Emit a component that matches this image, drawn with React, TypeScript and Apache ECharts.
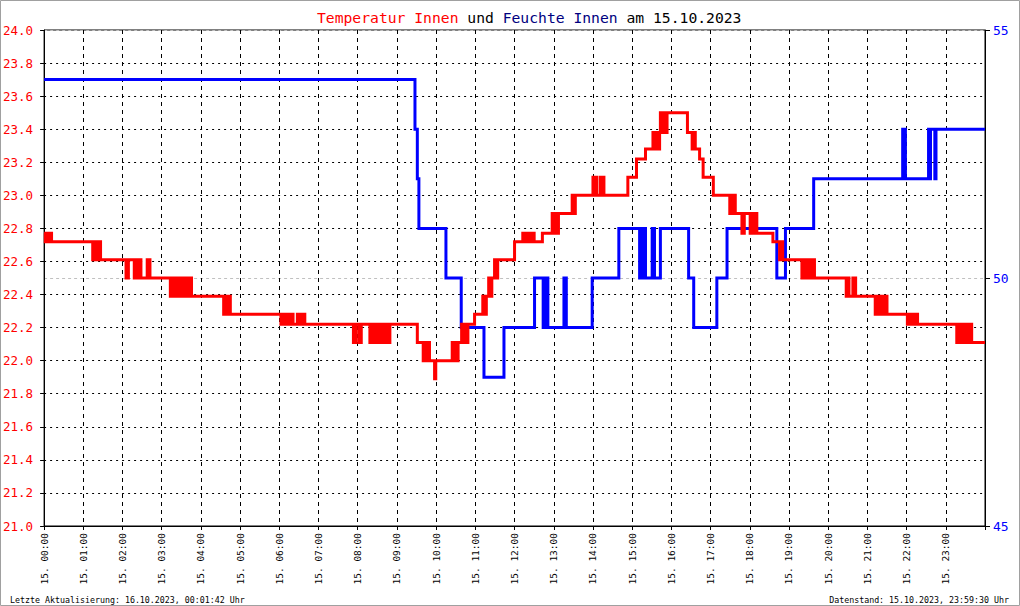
import React, { useEffect, useRef } from 'react';
import * as echarts from 'echarts';

// Temperature (°C) as [hour of day, value] step points
const tempPoints: [number, number][] = [
  [0.00, 22.77], [0.03, 22.72], [0.06, 22.77], [0.09, 22.72], [0.12, 22.77], [0.15, 22.72], [0.17, 22.77], [0.19, 22.72],
  [1.24, 22.61], [1.28, 22.72], [1.32, 22.61], [1.36, 22.72], [1.40, 22.61], [1.42, 22.72], [1.44, 22.61],
  [2.09, 22.50], [2.15, 22.61],
  [2.30, 22.50], [2.34, 22.61], [2.38, 22.50], [2.42, 22.61], [2.47, 22.50],
  [2.63, 22.61], [2.70, 22.50],
  [3.22, 22.39], [3.26, 22.50], [3.30, 22.39], [3.34, 22.50], [3.38, 22.39], [3.42, 22.50], [3.46, 22.39], [3.50, 22.50],
  [3.54, 22.39], [3.58, 22.50], [3.62, 22.39], [3.66, 22.50], [3.70, 22.39], [3.74, 22.50], [3.76, 22.39],
  [4.58, 22.28], [4.62, 22.39], [4.66, 22.28], [4.70, 22.39], [4.75, 22.28],
  [6.04, 22.22], [6.08, 22.28], [6.12, 22.22], [6.16, 22.28], [6.20, 22.22], [6.24, 22.28], [6.28, 22.22], [6.32, 22.28], [6.35, 22.22],
  [6.46, 22.28], [6.50, 22.22], [6.54, 22.28], [6.58, 22.22], [6.62, 22.28], [6.65, 22.22],
  [7.89, 22.11], [7.95, 22.22],
  [8.03, 22.11], [8.09, 22.22],
  [8.31, 22.11], [8.36, 22.22], [8.41, 22.11], [8.46, 22.22],
  [8.51, 22.11], [8.56, 22.22], [8.61, 22.11], [8.66, 22.22],
  [8.69, 22.11], [8.73, 22.22], [8.77, 22.11], [8.82, 22.22],
  [9.52, 22.11],
  [9.67, 22.00], [9.71, 22.11], [9.75, 22.00], [9.79, 22.11], [9.83, 22.00],
  [9.96, 21.89], [9.99, 22.00],
  [10.41, 22.11], [10.45, 22.00], [10.49, 22.11], [10.53, 22.00], [10.56, 22.11],
  [10.65, 22.22], [10.69, 22.11], [10.73, 22.22], [10.77, 22.11], [10.81, 22.22],
  [10.98, 22.28],
  [11.19, 22.39], [11.23, 22.28], [11.28, 22.39],
  [11.34, 22.50], [11.38, 22.39], [11.42, 22.50],
  [11.49, 22.61], [11.53, 22.50], [11.57, 22.61],
  [12.00, 22.72],
  [12.21, 22.77], [12.25, 22.72], [12.29, 22.77], [12.33, 22.72], [12.37, 22.77], [12.41, 22.72], [12.45, 22.77], [12.50, 22.72],
  [12.71, 22.77],
  [12.96, 22.89], [13.00, 22.77], [13.04, 22.89], [13.08, 22.77], [13.12, 22.89],
  [13.47, 23.00], [13.51, 22.89], [13.55, 23.00],
  [14.00, 23.11], [14.04, 23.00], [14.07, 23.11], [14.10, 23.00],
  [14.19, 23.11], [14.23, 23.00], [14.26, 23.11], [14.28, 23.00],
  [14.89, 23.11],
  [15.11, 23.22],
  [15.34, 23.28],
  [15.53, 23.38], [15.57, 23.28], [15.61, 23.38], [15.65, 23.28], [15.70, 23.38],
  [15.72, 23.50], [15.76, 23.38], [15.80, 23.50], [15.84, 23.38], [15.89, 23.50],
  [16.41, 23.38],
  [16.53, 23.28], [16.57, 23.38], [16.61, 23.28],
  [16.72, 23.22],
  [16.81, 23.11],
  [17.07, 23.00],
  [17.49, 22.89], [17.53, 23.00], [17.57, 22.89], [17.60, 23.00], [17.63, 22.89],
  [17.80, 22.77], [17.86, 22.89],
  [18.01, 22.77], [18.05, 22.89], [18.09, 22.77], [18.13, 22.89], [18.18, 22.77],
  [18.59, 22.72],
  [18.76, 22.61], [18.80, 22.72], [18.84, 22.61],
  [19.33, 22.50], [19.37, 22.61], [19.41, 22.50], [19.45, 22.61], [19.49, 22.50], [19.53, 22.61], [19.57, 22.50], [19.61, 22.61], [19.65, 22.50],
  [20.46, 22.39], [20.50, 22.50], [20.53, 22.39],
  [20.63, 22.50], [20.70, 22.39],
  [21.20, 22.28], [21.24, 22.39], [21.28, 22.28], [21.32, 22.39], [21.36, 22.28], [21.40, 22.39], [21.44, 22.28], [21.48, 22.39], [21.50, 22.28],
  [22.02, 22.22], [22.06, 22.28], [22.10, 22.22], [22.14, 22.28], [22.20, 22.22], [22.24, 22.28], [22.28, 22.22],
  [23.28, 22.11], [23.32, 22.22], [23.36, 22.11], [23.40, 22.22], [23.44, 22.11], [23.48, 22.22], [23.52, 22.11], [23.56, 22.22],
  [23.60, 22.11], [23.64, 22.22], [23.66, 22.11],
  [24.00, 22.11],
];

// Humidity (%) as [hour of day, value] step points
const humPoints: [number, number][] = [
  [0.00, 54], [9.46, 53], [9.52, 52], [9.56, 51], [10.25, 50], [10.64, 49], [11.22, 48], [11.73, 49],
  [12.51, 50], [12.73, 49], [12.76, 50], [12.79, 49], [12.82, 50], [12.85, 49],
  [13.26, 50], [13.32, 49], [13.98, 50], [14.66, 51],
  [15.19, 50], [15.23, 51], [15.27, 50], [15.31, 51], [15.34, 50],
  [15.51, 51], [15.57, 50], [15.72, 51], [16.44, 50], [16.57, 49], [17.16, 50], [17.42, 51],
  [18.69, 50], [18.91, 51], [19.63, 52], [21.90, 53], [21.97, 52],
  [22.56, 53], [22.59, 52], [22.61, 53], [22.72, 52], [22.75, 53], [24.00, 53],
];

const timeLabels: string[] = [
  '15. 00:00', '15. 01:00', '15. 02:00', '15. 03:00', '15. 04:00', '15. 05:00',
  '15. 06:00', '15. 07:00', '15. 08:00', '15. 09:00', '15. 10:00', '15. 11:00',
  '15. 12:00', '15. 13:00', '15. 14:00', '15. 15:00', '15. 16:00', '15. 17:00',
  '15. 18:00', '15. 19:00', '15. 20:00', '15. 21:00', '15. 22:00', '15. 23:00',
];

const tempRange = { min: 21, max: 24, step: 0.2 };
const humRange = { min: 45, max: 55, step: 5 };

const titleParts = ['Temperatur Innen', 'und', 'Feuchte Innen', 'am 15.10.2023'];
const footerLeft = 'Letzte Aktualisierung: 16.10.2023, 00:01:42 Uhr';
const footerRight = 'Datenstand: 15.10.2023, 23:59:30 Uhr';

const MONO = '"DejaVu Sans Mono", "Liberation Mono", monospace';

export default function App() {
  const ref = useRef<HTMLDivElement>(null);
  useEffect(() => {
    if (!ref.current) return;
    const chart = echarts.init(ref.current, undefined, { renderer: 'svg' });
    chart.setOption({
      animation: false,
      backgroundColor: '#ffffff',
      title: {
        text: `{r|${titleParts[0]}} {k|${titleParts[1]}} {b|${titleParts[2]}} {k|${titleParts[3]}}`,
        left: 312,
        top: 5,
        textStyle: {
          fontFamily: MONO,
          fontSize: 14.7,
          fontWeight: 'normal',
          rich: {
            r: { color: '#ff0000', fontFamily: MONO, fontSize: 14.7 },
            k: { color: '#000000', fontFamily: MONO, fontSize: 14.7 },
            b: { color: '#000080', fontFamily: MONO, fontSize: 14.7 },
          },
        },
      },
      grid: { left: 43, right: 35, top: 30, bottom: 80, show: true, borderColor: '#000', borderWidth: 1, backgroundColor: 'transparent' },
      xAxis: {
        type: 'value',
        min: 0,
        max: 24,
        interval: 1,
        axisLine: { show: true, lineStyle: { color: '#000', width: 1 } },
        axisTick: { show: true, length: 4, lineStyle: { color: '#000' } },
        splitLine: { show: true, lineStyle: { color: '#000', width: 1, type: [4, 4] } },
        axisLabel: {
          rotate: 90,
          margin: 7,
          color: '#000',
          fontFamily: MONO,
          fontSize: 9.5,
          formatter: (v: number) => timeLabels[Math.round(v)] ?? '',
        },
      },
      yAxis: [
        {
          type: 'value',
          position: 'left',
          min: tempRange.min,
          max: tempRange.max,
          interval: tempRange.step,
          axisLine: { show: true, lineStyle: { color: '#000' } },
          axisTick: { show: true, length: 4, lineStyle: { color: '#000' } },
          splitLine: { show: true, lineStyle: { color: '#000', width: 1, type: [2, 4] } },
          axisLabel: {
            margin: 11,
            color: '#ff0000',
            fontFamily: MONO,
            fontSize: 12.5,
            formatter: (v: number) => v.toFixed(1),
          },
        },
        {
          type: 'value',
          position: 'right',
          min: humRange.min,
          max: humRange.max,
          interval: humRange.step,
          axisLine: { show: true, lineStyle: { color: '#000' } },
          axisTick: { show: true, length: 5, lineStyle: { color: '#000' } },
          splitLine: { show: true, lineStyle: { color: '#c0c0c0', width: 1, type: [3, 3] } },
          axisLabel: {
            margin: 8,
            color: '#0000ff',
            fontFamily: MONO,
            fontSize: 13,
          },
        },
      ],
      series: [
        {
          name: 'Feuchte Innen',
          type: 'line',
          yAxisIndex: 1,
          step: 'end',
          data: humPoints,
          showSymbol: false,
          silent: true,
          lineStyle: { color: '#0000ff', width: 3, cap: 'butt', join: 'miter' },
        },
        {
          name: 'Temperatur Innen',
          type: 'line',
          yAxisIndex: 0,
          step: 'end',
          data: tempPoints,
          showSymbol: false,
          silent: true,
          lineStyle: { color: '#ff0000', width: 3, cap: 'butt', join: 'miter' },
        },
      ],
      graphic: [
        {
          type: 'rect',
          shape: { x: 0.5, y: 0.5, width: 1019, height: 605 },
          style: { fill: 'none', stroke: '#a0a0a0', lineWidth: 1 },
          silent: true,
        },
        {
          type: 'text',
          x: 10,
          y: 600,
          style: { text: footerLeft, fontFamily: MONO, fontSize: 8.3, fill: '#000', textVerticalAlign: 'middle', textAlign: 'left' },
        },
        {
          type: 'text',
          x: 1009,
          y: 600,
          style: { text: footerRight, fontFamily: MONO, fontSize: 8.3, fill: '#000', textVerticalAlign: 'middle', textAlign: 'right' },
        },
      ],
    });
    return () => chart.dispose();
  }, []);
  return (
    <div
      ref={ref}
      style={{ position: 'fixed', left: 0, top: 0, width: 1020, height: 606, background: '#fff' }}
    />
  );
}
